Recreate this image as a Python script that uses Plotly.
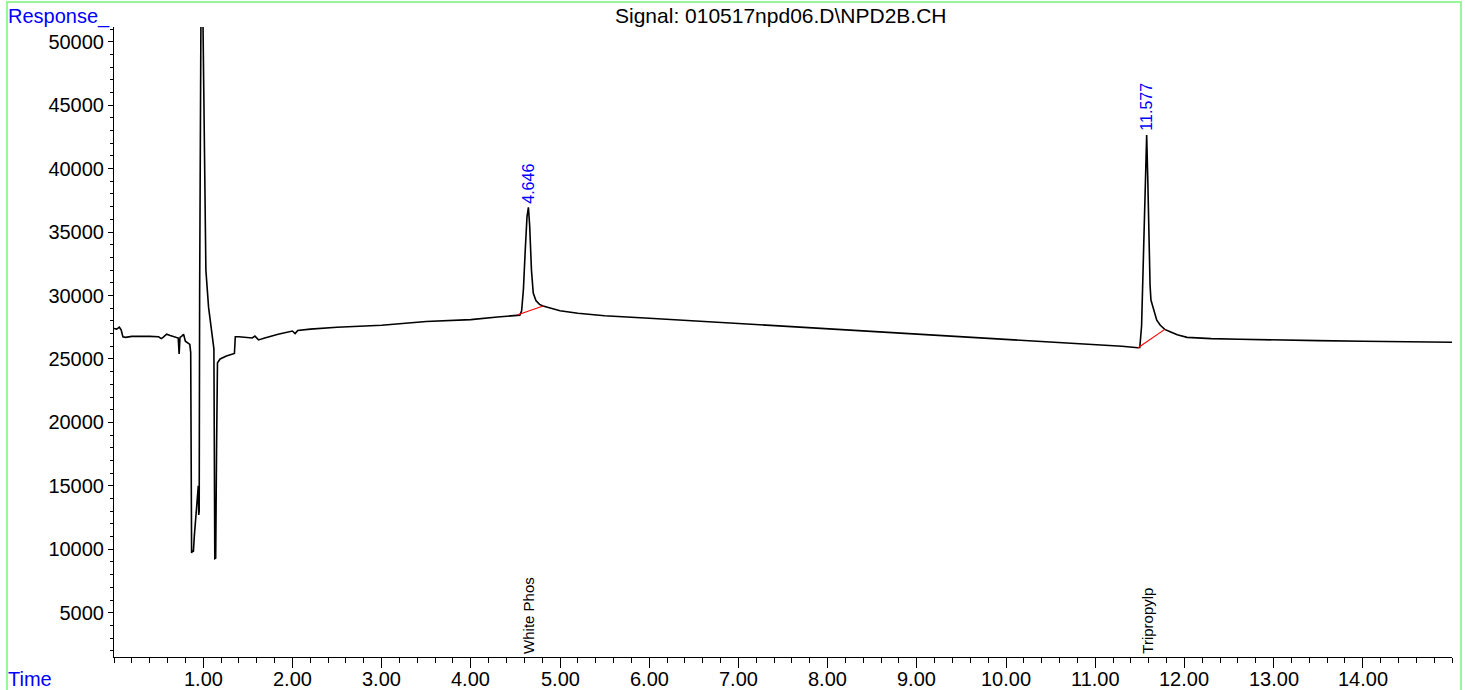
import plotly.graph_objects as go

# Chromatogram trace: retention time (min) and detector response
time_min = [
    0.00, 0.03, 0.06, 0.08, 0.10, 0.13, 0.20, 0.30, 0.40, 0.50, 0.53, 0.55,
    0.59, 0.63, 0.70, 0.72, 0.73, 0.74, 0.76, 0.78, 0.80, 0.85, 0.86, 0.87,
    0.88, 0.89, 0.90, 0.92, 0.94, 0.945, 0.95, 0.955, 0.96, 0.97, 0.98, 0.99,
    1.00, 1.01, 1.03, 1.06, 1.08, 1.11, 1.12, 1.13, 1.14, 1.15, 1.16, 1.19,
    1.26, 1.35, 1.36, 1.40, 1.55, 1.58, 1.62, 1.69, 1.84, 2.00, 2.03, 2.06,
    2.20, 2.50, 3.00, 3.50, 4.00, 4.30, 4.50, 4.55, 4.57, 4.59, 4.61, 4.63,
    4.646, 4.66, 4.68, 4.70, 4.73, 4.77, 4.81, 4.90, 5.00, 5.20, 5.50, 6.00,
    6.50, 7.00, 7.50, 8.00, 8.50, 9.00, 9.50, 10.00, 10.50, 11.00, 11.30, 11.48,
    11.50, 11.52, 11.54, 11.56, 11.577, 11.59, 11.60, 11.615, 11.625, 11.65, 11.69, 11.73,
    11.78, 11.84, 11.92, 12.03, 12.30, 12.62, 13.00, 13.50, 14.00, 14.50, 15.00,
]
response = [
    27400, 27350, 27500, 27300, 26750, 26700, 26780, 26800, 26780, 26750, 26600, 26700,
    26950, 26850, 26700, 26650, 25400, 26700, 26800, 26950, 26400, 26150, 25500, 9700,
    9900, 9800, 11000, 13000, 14500, 15000, 12700, 13000, 30000, 52000, 60000, 56000,
    50500, 41600, 32000, 29080, 28000, 26160, 25800, 9260, 9300, 18000, 24700, 25000,
    25230, 25430, 26750, 26750, 26650, 26800, 26500, 26650, 26950, 27200, 27000, 27250,
    27350, 27500, 27660, 27950, 28100, 28300, 28420, 28450, 28800, 30500, 33500, 36200,
    36950, 35500, 32000, 30200, 29600, 29300, 29170, 29000, 28800, 28600, 28400, 28210,
    28000, 27820, 27620, 27420, 27200, 26950, 26760, 26560, 26370, 26170, 26000, 25880,
    25900, 27600, 33000, 38500, 42650, 39000, 35000, 30800, 29640, 29100, 28060, 27650,
    27330, 27140, 26900, 26700, 26600, 26550, 26480, 26440, 26400, 26350, 26320,
]

# Integration baselines drawn under each identified peak
baseline_t = [[4.52, 4.81], [11.48, 11.78]]
baseline_r = [[28460, 29170], [25880, 27330]]

# Identified peaks
peak_rt = [4.646, 11.577]
peak_height = [36950, 42650]
peak_label = ["4.646", "11.577"]
compound_name = ["White Phos", "Tripropylp"]

x_tickvals = [1, 2, 3, 4, 5, 6, 7, 8, 9, 10, 11, 12, 13, 14]
x_ticktext = ["1.00", "2.00", "3.00", "4.00", "5.00", "6.00", "7.00",
              "8.00", "9.00", "10.00", "11.00", "12.00", "13.00", "14.00"]
y_tickvals = [5000, 10000, 15000, 20000, 25000, 30000, 35000, 40000, 45000, 50000]
y_ticktext = ["5000", "10000", "15000", "20000", "25000",
              "30000", "35000", "40000", "45000", "50000"]

FONT = "Liberation Sans, Arial, sans-serif"
BLUE = "#0000FF"
XLABEL_Y = -0.035  # vertical position of the time labels, in paper units

fig = go.Figure()
fig.add_trace(go.Scatter(
    x=time_min, y=response, mode="lines",
    line=dict(color="black", width=1.6), hoverinfo="x+y", showlegend=False,
))
for bt, br in zip(baseline_t, baseline_r):
    fig.add_trace(go.Scatter(
        x=bt, y=br, mode="lines",
        line=dict(color="#FF0000", width=1.2), showlegend=False, hoverinfo="skip",
    ))

annotations = []
for rt, h, lab in zip(peak_rt, peak_height, peak_label):
    annotations.append(dict(
        x=rt, y=h, xref="x", yref="y", text=lab, showarrow=False,
        textangle=-90, xanchor="center", yanchor="bottom", yshift=2,
        font=dict(family=FONT, size=16, color=BLUE),
    ))
for rt, name in zip(peak_rt, compound_name):
    annotations.append(dict(
        x=rt, y=0, xref="x", yref="paper", text=name, showarrow=False,
        textangle=-90, xanchor="center", yanchor="bottom", yshift=1,
        font=dict(family=FONT, size=15, color="black"),
    ))
# time-axis labels, placed close under the tick marks
for tv, tt in zip(x_tickvals, x_ticktext):
    annotations.append(dict(
        x=tv, y=XLABEL_Y, xref="x", yref="paper", text=tt, showarrow=False,
        xanchor="center", yanchor="middle",
        font=dict(family=FONT, size=20, color="black"),
    ))
annotations += [
    dict(x=-0.0805, y=1.016, xref="paper", yref="paper", text="Response_",
         showarrow=False, xanchor="left", yanchor="middle",
         font=dict(family=FONT, size=20, color=BLUE)),
    dict(x=-0.0805, y=XLABEL_Y, xref="paper", yref="paper", text="Time",
         showarrow=False, xanchor="left", yanchor="middle",
         font=dict(family=FONT, size=20, color=BLUE)),
    dict(x=0.4985, y=1.019, xref="paper", yref="paper",
         text="Signal: 010517npd06.D\\NPD2B.CH",
         showarrow=False, xanchor="center", yanchor="middle",
         font=dict(family=FONT, size=21, color="black")),
]

fig.update_layout(
    width=1465, height=690,
    margin=dict(l=114, r=13, t=27, b=33),
    paper_bgcolor="white", plot_bgcolor="white",
    font=dict(family=FONT, size=20, color="black"),
    annotations=annotations,
    shapes=[dict(
        type="rect", xref="paper", yref="paper",
        x0=-0.0800, x1=1.0067, y0=-0.2, y1=1.0395,
        line=dict(color="#99F599", width=2), fillcolor="rgba(0,0,0,0)",
        layer="below",
    )],
    xaxis=dict(
        range=[0, 15], showgrid=False, zeroline=False, automargin=False,
        showline=True, linecolor="black", linewidth=1,
        tickmode="array", tickvals=x_tickvals, showticklabels=False,
        ticks="outside", ticklen=10, tickcolor="black", tickwidth=1,
        minor=dict(tick0=0, dtick=0.2, ticks="outside", ticklen=5,
                   tickcolor="black", tickwidth=1, showgrid=False),
    ),
    yaxis=dict(
        range=[1510, 51160], showgrid=False, zeroline=False, automargin=False,
        showline=True, linecolor="black", linewidth=1,
        tickmode="array", tickvals=y_tickvals, ticktext=y_ticktext,
        ticks="outside", ticklen=5, tickcolor="black", tickwidth=1,
        minor=dict(tick0=0, dtick=1000, ticks="outside", ticklen=3,
                   tickcolor="black", tickwidth=1, showgrid=False),
        tickfont=dict(family=FONT, size=20, color="black"),
    ),
)

fig.write_html("out.html")
